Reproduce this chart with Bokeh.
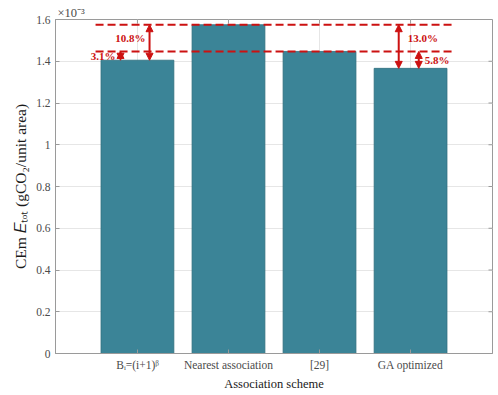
import math
from bokeh.plotting import figure
from bokeh.models import FixedTicker, Label, Arrow, NormalHead, Range1d
from bokeh.embed import file_html
from bokeh.resources import INLINE

# ---- data ----
categories = ["Bᵢ=(i+1)ᵝ", "Nearest association", "[29]", "GA optimized"]
positions = [1, 2, 3, 4]
cem_values = [1.405, 1.575, 1.447, 1.366]   # ×10^-3 gCO2/unit area
y_ticks = [0, 0.2, 0.4, 0.6, 0.8, 1.0, 1.2, 1.4, 1.6]
y_tick_labels = ["0", "0.2", "0.4", "0.6", "0.8", "1", "1.2", "1.4", "1.6"]
pct_labels = ["10.8%", "3.1%", "13.0%", "5.8%"]

FONT = "Liberation Serif"
BAR = "#3b8497"
RED = "#cc1111"
AXC = "#9a9a9a"
TXT = "#4a4a4a"
XMIN, XMAX, YMIN, YMAX = 0.1, 4.9, 0, 1.6

p = figure(width=496, height=393, x_range=Range1d(XMIN, XMAX), y_range=Range1d(YMIN, YMAX),
           output_backend="svg", toolbar_location=None,
           min_border_left=55, min_border_right=4, min_border_top=19, min_border_bottom=38)

p.vbar(x=positions, top=cem_values, width=0.8, fill_color=BAR,
       line_color="#2f6e7e", line_width=0.8)

# axes styling
for ax in (p.xaxis[0], p.yaxis[0]):
    ax.axis_line_color = AXC
    ax.major_tick_line_color = AXC
    ax.major_tick_in = 4
    ax.major_tick_out = 0
    ax.minor_tick_line_color = None
    ax.major_label_text_font = FONT
    ax.major_label_text_color = TXT
    ax.major_label_text_font_size = "11.5px"
    ax.axis_label_text_font = FONT
    ax.axis_label_text_font_style = "normal"
    ax.axis_label_text_color = "#1a1a1a"

p.xaxis.ticker = FixedTicker(ticks=positions)
p.xaxis.major_label_overrides = {pos: lab for pos, lab in zip(positions, categories)}
p.xaxis.axis_label = "Association scheme"
p.xaxis.axis_label_text_font_size = "12.5px"
p.xaxis.axis_label_standoff = 3
p.xaxis.major_label_standoff = 5

p.yaxis.ticker = FixedTicker(ticks=y_ticks)
p.yaxis.major_label_overrides = {t: lab for t, lab in zip(y_ticks, y_tick_labels)}
p.yaxis.axis_label = "CEm 𝐸ₜₒₜ (gCO₂/unit area)"
p.yaxis.axis_label_text_font_size = "15.5px"
p.yaxis.axis_label_standoff = 4
p.yaxis.major_label_standoff = 5

# inward ticks on right and top edges of the box
p.ray(x=[XMAX] * len(y_ticks), y=y_ticks, length=4, length_units="screen",
      angle=math.pi, line_color=AXC, line_width=1)
p.ray(x=positions, y=[YMAX] * len(positions), length=4, length_units="screen",
      angle=-math.pi / 2, line_color=AXC, line_width=1)

p.xgrid.ticker = FixedTicker(ticks=positions)
p.ygrid.ticker = FixedTicker(ticks=y_ticks)
p.grid.grid_line_color = "#e6e6e6"
p.grid.grid_line_width = 1
p.outline_line_color = AXC

# ×10^-3 exponent label as a left-aligned title
p.title.text = "×10⁻³"
p.title.align = "left"
p.title.offset = 2
p.title.standoff = 0
p.title.text_font = FONT
p.title.text_font_size = "12.5px"
p.title.text_font_style = "normal"
p.title.text_color = TXT

# dashed reference lines at the nearest-association and [29] levels
for lvl in (cem_values[1], cem_values[2]):
    p.line(x=[0.54, 4.47], y=[lvl, lvl], line_color=RED, line_width=2, line_dash="8 4")

# double-headed arrows
arrows = [
    (1.133, cem_values[1], cem_values[0]),
    (0.814, cem_values[2], cem_values[0]),
    (3.87, cem_values[1], cem_values[3]),
    (4.09, cem_values[2], cem_values[3]),
]
for xa, y0, y1 in arrows:
    p.add_layout(Arrow(x_start=xa, y_start=y0, x_end=xa, y_end=y1,
                       start=NormalHead(size=7, fill_color=RED, line_color=RED),
                       end=NormalHead(size=7, fill_color=RED, line_color=RED),
                       line_color=RED, line_width=2))

# percentage labels
lab_pos = [
    (1.089, (cem_values[1] + cem_values[2]) / 2, "right"),
    (0.76, (cem_values[2] + cem_values[0]) / 2, "right"),
    (3.97, (cem_values[1] + cem_values[2]) / 2, "left"),
    (4.155, (cem_values[2] + cem_values[3]) / 2, "left"),
]
for (xl, yl, al), txt in zip(lab_pos, pct_labels):
    p.add_layout(Label(x=xl, y=yl, text=txt, text_font=FONT, text_font_size="11px",
                       text_font_style="bold", text_color=RED, text_align=al,
                       text_baseline="middle"))

open("out.html", "w").write(file_html(p, INLINE))
